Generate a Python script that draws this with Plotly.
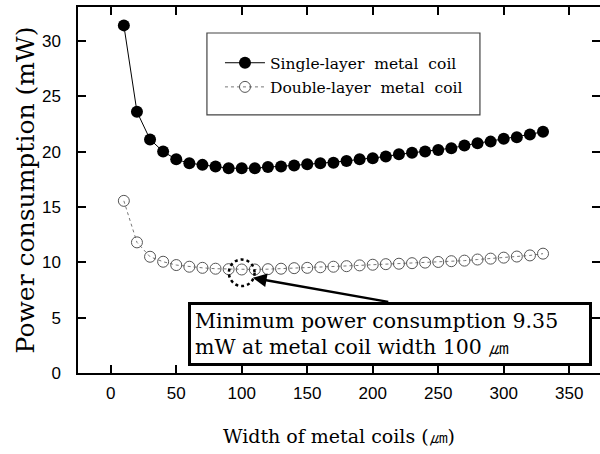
import plotly.graph_objects as go

width_um = [10, 20, 30, 40, 50, 60, 70, 80, 90, 100, 110, 120, 130, 140, 150, 160, 170,
            180, 190, 200, 210, 220, 230, 240, 250, 260, 270, 280, 290, 300, 310, 320, 330]
single_layer = [31.4, 23.6, 21.1, 20.0, 19.3, 18.95, 18.8, 18.65, 18.5, 18.5, 18.5, 18.6,
                18.65, 18.75, 18.85, 18.95, 19.0, 19.15, 19.3, 19.4, 19.55, 19.75, 19.9,
                20.0, 20.15, 20.3, 20.55, 20.75, 20.9, 21.15, 21.3, 21.55, 21.8]
double_layer = [15.55, 11.8, 10.5, 10.05, 9.75, 9.6, 9.5, 9.42, 9.38, 9.35, 9.35, 9.38,
                9.42, 9.47, 9.5, 9.55, 9.6, 9.65, 9.72, 9.78, 9.83, 9.87, 9.92, 9.97,
                10.03, 10.1, 10.15, 10.25, 10.33, 10.42, 10.52, 10.62, 10.78]
series_names = ["Single-layer  metal  coil", "Double-layer  metal  coil"]
x_ticks = [0, 50, 100, 150, 200, 250, 300, 350]
y_ticks = [0, 5, 10, 15, 20, 25, 30]
min_x, min_y = 100, 9.35
note_text = "Minimum power consumption 9.35<br>mW at metal coil width 100 \u339b"

SERIF = "DejaVu Serif"
SANS = "Liberation Sans, Arial"

fig = go.Figure()
fig.add_trace(go.Scatter(
    x=width_um, y=single_layer, name=series_names[0], mode="lines+markers",
    line=dict(color="black", width=1),
    marker=dict(symbol="circle", size=12, color="black"),
    legendgroup="a"))
fig.add_trace(go.Scatter(
    x=width_um, y=double_layer, name=series_names[1], mode="lines+markers",
    line=dict(color="#777777", width=1, dash="dot"),
    marker=dict(symbol="circle-open", size=11, color="#555555", line=dict(width=1)),
    legendgroup="b"))

axis_common = dict(showline=True, linecolor="black", linewidth=1.5, mirror="ticks",
                   ticks="inside", ticklen=8, tickwidth=1.5, tickcolor="black",
                   showgrid=False, zeroline=False, automargin=False,
                   tickfont=dict(family=SANS, size=17, color="black"))

fig.update_xaxes(range=[-25, 373.5], tickvals=x_ticks, ticklabelstandoff=4,
                 title=dict(text="Width of metal coils (\u339b)", standoff=28,
                            font=dict(family=SERIF, size=19, color="black")),
                 **axis_common)
fig.update_yaxes(range=[0, 33.06], tickvals=y_ticks, ticklabelstandoff=12,
                 title=dict(text="Power consumption (mW)", standoff=0,
                            font=dict(family=SERIF, size=25, color="black")),
                 **axis_common)

# legend frame
fig.add_shape(type="rect", xref="paper", yref="paper", x0=0.247, x1=0.770, y0=0.705, y1=0.929,
              line=dict(color="#444444", width=1.2), fillcolor="white", layer="below")

# dotted circle around the minimum
fig.add_shape(type="circle", xref="x", yref="y", x0=min_x - 9.8, x1=min_x + 9.8,
              y0=min_y - 1.5, y1=min_y + 0.9, line=dict(color="black", width=2.5, dash="dot"))

# arrow
fig.add_annotation(x=min_x + 8.5, y=min_y - 0.75, ax=213, ay=6.4, axref="x", ayref="y",
                   text="", showarrow=True, arrowhead=2, arrowsize=1.1, arrowwidth=2.5,
                   arrowcolor="black", standoff=0)
# note box
fig.add_annotation(x=58.8, y=6.41, xref="x", yref="y", xanchor="left", yanchor="top",
                   text=note_text, showarrow=False, align="left",
                   width=390, height=50, borderpad=4, borderwidth=3, bordercolor="black",
                   bgcolor="white", font=dict(family=SERIF, size=20.5, color="black"))

fig.update_layout(
    width=600, height=454, margin=dict(l=78, r=0, t=7, b=81),
    plot_bgcolor="white", paper_bgcolor="white", showlegend=True,
    legend=dict(x=0.272, y=0.893, xanchor="left", yanchor="top", bgcolor="rgba(0,0,0,0)",
                borderwidth=0, tracegroupgap=1, itemwidth=40,
                font=dict(family=SERIF, size=15.5, color="black")),
)

fig.write_html("out.html", config={"displayModeBar": False},
               post_script="document.body.style.margin='0';document.body.style.overflow='hidden';")
